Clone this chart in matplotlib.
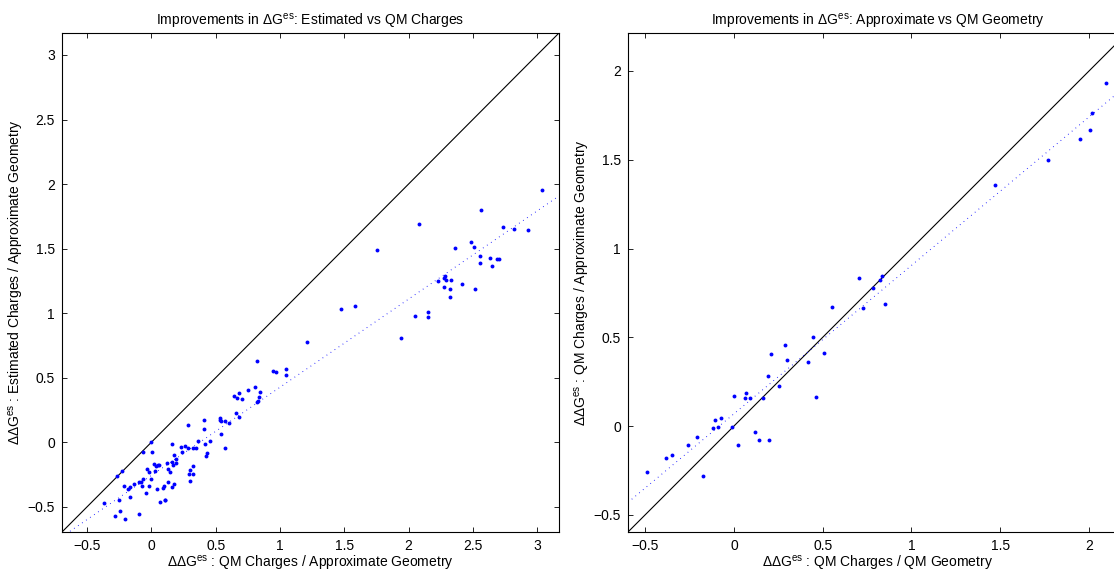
import numpy as np
import matplotlib
matplotlib.use("Agg")
import matplotlib.pyplot as plt

plt.rcParams['font.family'] = ['Liberation Sans', 'DejaVu Sans']
plt.rcParams['mathtext.fontset'] = 'custom'
plt.rcParams['mathtext.rm'] = 'Liberation Sans'
plt.rcParams['mathtext.it'] = 'Liberation Sans:italic'
plt.rcParams['axes.unicode_minus'] = True

# left panel: QM charges (x) vs estimated charges (y), approximate geometry
left_x = [3.040, 2.561, 2.085, 1.756, 2.737, 2.822, 2.929, 2.483, 2.359, 2.509,
          2.556, 2.634, 2.688, 2.700, 2.556, 2.646, 2.287, 2.276, 2.294, 2.333,
          2.230, 2.418, 2.276, 2.323, 2.514, 2.320, 1.474, 1.582, 2.154, 2.054,
          2.149, 1.207, 1.945,
          0.825, 0.946, 0.967, 1.044, 1.044, 0.804, 0.755, 0.679, 0.845, 0.643,
          0.666, 0.708, 0.835, 0.829, 0.825, 0.656, 0.679, 0.408, 0.530, 0.532,
          0.545, 0.573, 0.602, 0.281, 0.408, 0.542, 0.366, 0.454, 0.415, 0.320,
          0.346, 0.576, 0.431, 0.425, -0.002, 0.159, 0.234, 0.262, 0.286, -0.062,
          0.005, 0.237, 0.175, 0.188, 0.118, 0.161, 0.188, 0.169, 0.019, 0.035,
          0.050, 0.061, -0.033, -0.019, 0.027, 0.130, 0.148, 0.322, 0.300, 0.322,
          0.295, 0.300, -0.231, -0.269, -0.002, -0.064, -0.095, -0.080, -0.136, -0.169,
          -0.181, -0.214, -0.070, -0.022, 0.041, -0.040, 0.128, 0.175, 0.161, 0.099,
          0.091, -0.169, -0.254, 0.109, 0.103, 0.068, -0.365, -0.242, -0.283, -0.203,
          -0.095]
left_y = [1.952, 1.800, 1.692, 1.487, 1.671, 1.650, 1.648, 1.554, 1.508, 1.510,
          1.443, 1.430, 1.417, 1.422, 1.389, 1.363, 1.288, 1.269, 1.259, 1.259,
          1.249, 1.228, 1.205, 1.184, 1.187, 1.127, 1.034, 1.055, 1.009, 0.977,
          0.974, 0.778, 0.809,
          0.630, 0.555, 0.543, 0.571, 0.522, 0.429, 0.403, 0.384, 0.392, 0.356,
          0.343, 0.332, 0.351, 0.322, 0.310, 0.224, 0.193, 0.171, 0.190, 0.170,
          0.162, 0.162, 0.151, 0.134, 0.105, 0.061, 0.012, 0.012, -0.016, -0.047,
          -0.047, -0.041, -0.086, -0.109, 0.000, -0.012, -0.035, -0.032, -0.045, -0.078,
          -0.074, -0.076, -0.099, -0.130, -0.158, -0.154, -0.159, -0.173, -0.172, -0.181,
          -0.179, -0.179, -0.208, -0.227, -0.220, -0.208, -0.234, -0.186, -0.216, -0.243,
          -0.243, -0.299, -0.224, -0.262, -0.283, -0.283, -0.305, -0.311, -0.327, -0.346,
          -0.362, -0.342, -0.342, -0.336, -0.359, -0.391, -0.305, -0.326, -0.349, -0.342,
          -0.352, -0.427, -0.445, -0.445, -0.450, -0.466, -0.470, -0.533, -0.573, -0.594,
          -0.555]

# right panel: QM geometry (x) vs approximate geometry (y), QM charges
right_x = [2.096, 2.017, 2.006, 1.949, 1.771, 1.472, 0.706, 0.832, 0.823, 0.785,
           0.849, 0.727, 0.552, 0.445, 0.505, 0.287, 0.210, 0.300, 0.417, 0.192,
           0.254, 0.069, 0.002, 0.062, 0.088, 0.163, 0.460, -0.072, -0.105, -0.117,
           -0.092, -0.013, 0.117, 0.143, 0.197, 0.021, -0.208, -0.261, -0.351, -0.385,
           -0.175, -0.492]
right_y = [1.934, 1.762, 1.669, 1.615, 1.499, 1.359, 0.835, 0.845, 0.821, 0.779,
           0.687, 0.663, 0.669, 0.500, 0.410, 0.456, 0.404, 0.372, 0.359, 0.280,
           0.227, 0.184, 0.167, 0.158, 0.159, 0.159, 0.162, 0.047, 0.032, -0.010,
           -0.004, -0.007, -0.035, -0.081, -0.079, -0.105, -0.064, -0.107, -0.165, -0.179,
           -0.280, -0.261]

# least squares lines (slope, intercept) as drawn in the figure
left_fit = (0.683, -0.257)
right_fit = (0.836, 0.069)

left_lim = (-0.695, 3.17)
right_lim = (-0.597, 2.214)

left_ticks = [-0.5, 0, 0.5, 1, 1.5, 2, 2.5, 3]
right_ticks = [-0.5, 0, 0.5, 1, 1.5, 2]

FS = 10


def fmt(v):
    s = ('%g' % v)
    return s.replace('-', '\u2212')


def panel(ax, x, y, fit, lim, ticks, title, xlabel, ylabel):
    xs = np.array(lim)
    ax.plot(xs, xs, color='black', lw=0.8)
    ax.plot(xs, fit[0] * xs + fit[1], color='blue', lw=0.7,
            linestyle=(0, (0.8, 4.2)))
    ax.plot(x, y, 'o', color='blue', markersize=2.8, markeredgewidth=0)
    ax.set_xlim(lim)
    ax.set_ylim(lim)
    ax.set_xticks(ticks)
    ax.set_yticks(ticks)
    ax.set_xticklabels([fmt(t) for t in ticks])
    ax.set_yticklabels([fmt(t) for t in ticks])
    ax.tick_params(direction='in', top=True, right=True, length=3.5,
                   width=0.6, labelsize=FS, pad=5)
    for s in ax.spines.values():
        s.set_linewidth(0.8)
    ax.set_title(title, fontsize=FS, pad=5)
    ax.set_xlabel(xlabel, fontsize=FS, labelpad=0.5)
    ax.set_ylabel(ylabel, fontsize=FS, labelpad=1.5)


fig = plt.figure(figsize=(11.14, 5.71), dpi=100)
ax1 = fig.add_axes([62 / 1114, 39 / 571, 497 / 1114, 499 / 571])
ax2 = fig.add_axes([628 / 1114, 39 / 571, 499 / 1114, 499 / 571])

dg = '\u0394G$^{\\mathrm{es}}$'
ddg = '\u0394\u0394G$^{\\mathrm{es}}$'

panel(ax1, left_x, left_y, left_fit, left_lim, left_ticks,
      'Improvements in ' + dg + ': Estimated vs QM Charges',
      ddg + ' : QM Charges / Approximate Geometry',
      ddg + ' : Estimated Charges / Approximate Geometry')
panel(ax2, right_x, right_y, right_fit, right_lim, right_ticks,
      'Improvements in ' + dg + ': Approximate vs QM Geometry',
      ddg + ' : QM Charges / QM Geometry',
      ddg + ' : QM Charges / Approximate Geometry')

fig.savefig('out.png', dpi=100)
